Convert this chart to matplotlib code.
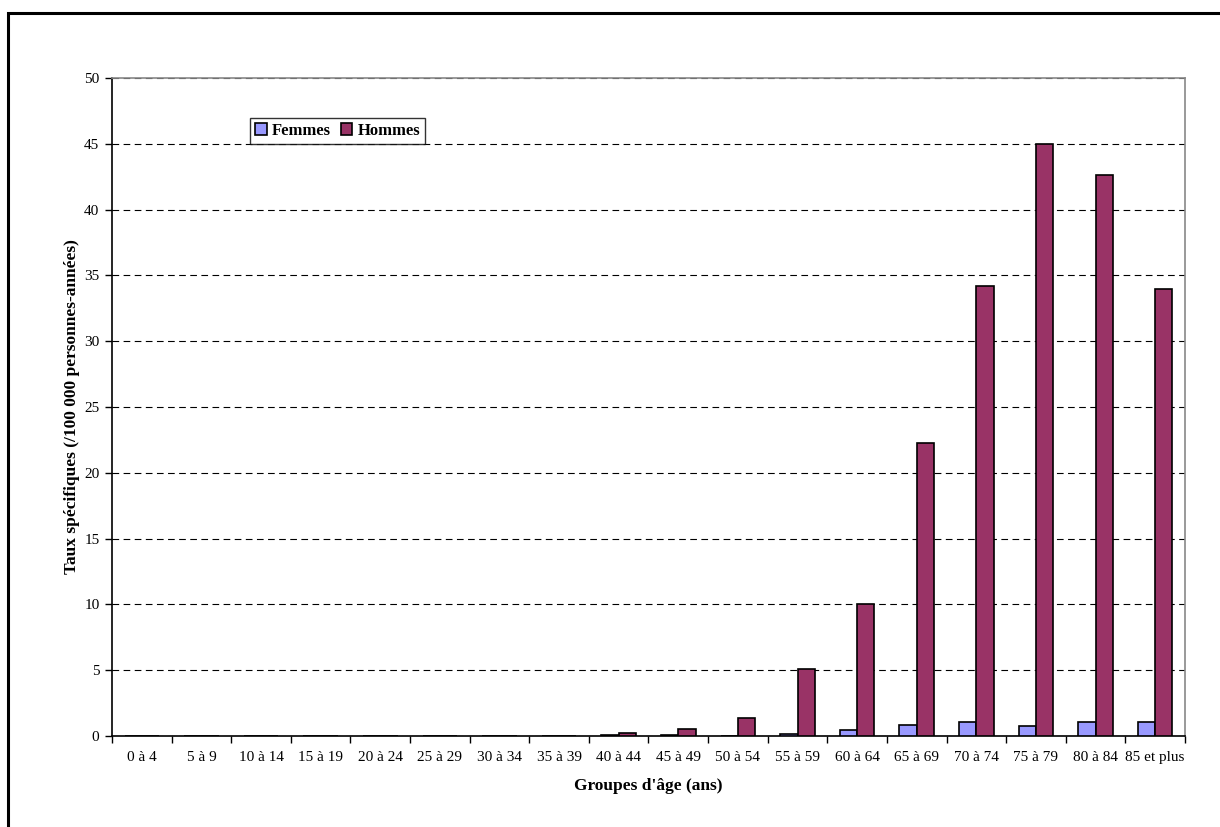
import numpy as np
import matplotlib.pyplot as plt
from matplotlib.patches import Rectangle

plt.rcParams['font.family'] = ['Liberation Serif', 'DejaVu Serif']

# Data
groupes = ['0 à 4', '5 à 9', '10 à 14', '15 à 19', '20 à 24', '25 à 29', '30 à 34',
           '35 à 39', '40 à 44', '45 à 49', '50 à 54', '55 à 59', '60 à 64',
           '65 à 69', '70 à 74', '75 à 79', '80 à 84', '85 et plus']
femmes = [0, 0, 0, 0, 0, 0, 0, 0, 0.05, 0.05, 0, 0.15, 0.45, 0.85, 1.05, 0.75, 1.1, 1.05]
hommes = [0, 0, 0, 0, 0, 0, 0, 0, 0.2, 0.55, 1.4, 5.1, 10.0, 22.25, 34.2, 45.0, 42.6, 33.95]

fig = plt.figure(figsize=(12.2, 8.27), dpi=100)
ax = fig.add_axes([0.0918, 0.110, 0.8795, 0.7957])

x = np.arange(len(groupes))
w = 0.29
ax.bar(x - w / 2, femmes, w, color='#9999FF', edgecolor='black', linewidth=1.2,
       label='Femmes', zorder=3)
ax.bar(x + w / 2, hommes, w, color='#993366', edgecolor='black', linewidth=1.2,
       label='Hommes', zorder=3)

ax.set_xlim(-0.5, len(groupes) - 0.5)
ax.set_ylim(0, 50)
ax.set_yticks(np.arange(0, 51, 5))
ax.set_xticks(x)
ax.set_xticklabels(groupes)
ax.set_xticks(np.arange(-0.5, len(groupes), 1), minor=True)
ax.tick_params(axis='x', which='major', length=0, labelsize=11, pad=11)
ax.tick_params(axis='x', which='minor', length=5, width=1)
ax.tick_params(axis='y', length=5, width=1, labelsize=11, pad=4)

ax.yaxis.grid(True, linestyle=(0, (6, 4)), color='black', linewidth=0.8)
ax.set_axisbelow(True)
for s in ['left', 'bottom']:
    ax.spines[s].set_linewidth(1.2)
for s in ['top', 'right']:
    ax.spines[s].set_color('#888888')
    ax.spines[s].set_linewidth(1.2)

ax.set_xlabel("Groupes d'âge (ans)", fontsize=12.5, fontweight='bold', labelpad=10)
ax.set_ylabel('Taux spécifiques (/100 000 personnes-années)', fontsize=12.5,
              fontweight='bold', labelpad=3)

leg = ax.legend(loc='upper left', bbox_to_anchor=(0.1286, 0.939), ncol=2,
                prop={'weight': 'bold', 'size': 12}, frameon=True, fancybox=False,
                edgecolor='black', handlelength=0.7, handleheight=0.7,
                handletextpad=0.3, columnspacing=0.6, borderpad=0.3,
                borderaxespad=0)
leg.get_frame().set_linewidth(1.0)

# outer frame around the chart
fig.patches.append(Rectangle((8 / 1220, -0.05), 1.1, 1 - 13 / 827 + 0.05,
                             transform=fig.transFigure, fill=False,
                             edgecolor='black', linewidth=2.2))

fig.savefig('out.png', dpi=100)
